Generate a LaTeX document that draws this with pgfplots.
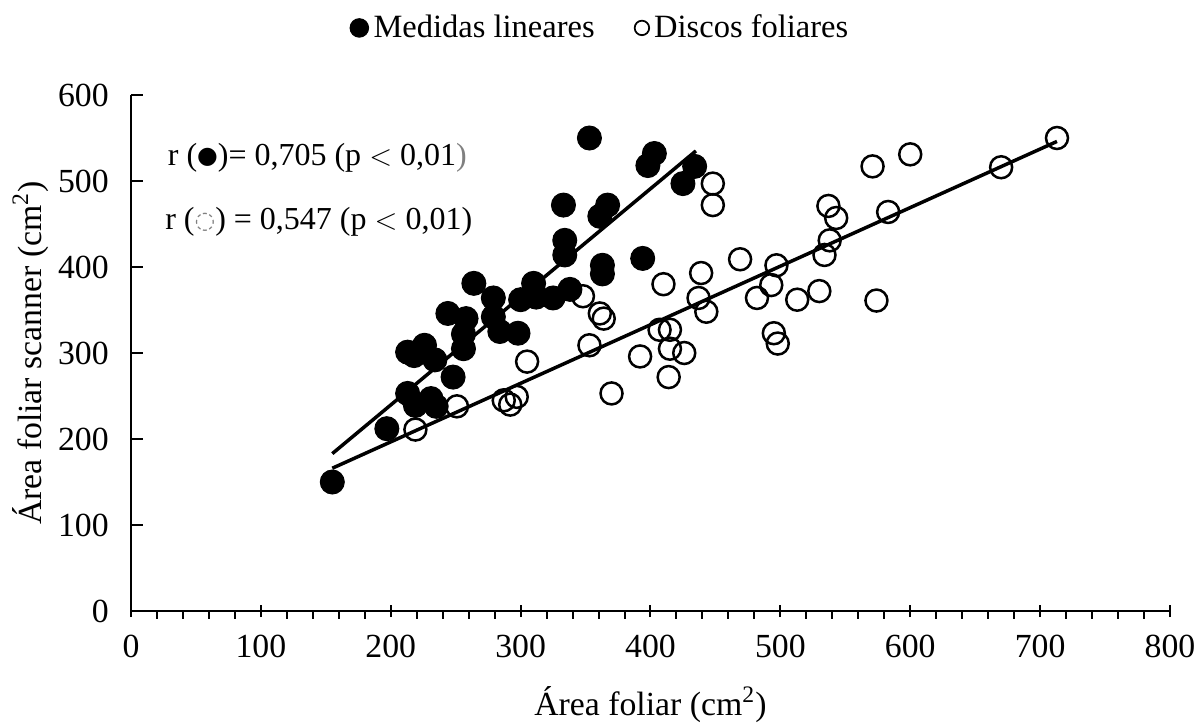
\documentclass[border=0pt]{standalone}
\usepackage{fontspec}
\setmainfont{Liberation Serif}
\newfontfamily\symfont{DejaVu Sans}
\usepackage{pgfplots}
\pgfplotsset{compat=1.18}

\newcommand{\fs}{\fontsize{13.5}{16}\selectfont}

\begin{document}
\begin{tikzpicture}
\useasboundingbox (-52.4pt,-45.2pt) rectangle (425.2pt,244.4pt);
\begin{axis}[
    at={(0,0)}, anchor=south west,
    scale only axis,
    width=415.6pt, height=206.4pt,
    xmin=0, xmax=800, ymin=0, ymax=600,
    axis lines*=left,
    axis line style={black, line width=0.8pt},
    xtick={0,100,...,800},
    ytick={0,100,...,600},
    minor x tick num=4,
    tick align=center,
    major tick length=4.8pt,
    minor tick length=3pt,
    tick style={black, line width=0.8pt},
    minor x tick style={yshift=-1.5pt},
    major y tick style={xshift=2.4pt},
    /pgf/number format/assume math mode=true,
    ticklabel style={font=\fs},
    xticklabel style={yshift=-3.5pt},
    yticklabel style={xshift=-3pt},
    xlabel={Área foliar (cm\textsuperscript{2})},
    ylabel={Área foliar scanner (cm\textsuperscript{2})},
    xlabel style={font=\fs, at={(axis description cs:0.5,-0.182)}, anchor=center},
    ylabel style={font=\fs, at={(axis description cs:-0.097,0.5)}, anchor=center},
    legend style={draw=none, fill=none, at={(0.453,1.13)}, anchor=center,
        font=\fontsize{13}{16}\selectfont, legend columns=2,
        /tikz/every even column/.append style={column sep=14pt}},
    legend cell align=left,
]

% Medidas lineares (filled)
\addplot[only marks, mark=*, mark size=4.8pt, black,
    legend image post style={mark size=3.7pt}] coordinates {
    (155,150) (197,212) (213,253) (219,239) (231,247) (235,238)
    (213,301) (218,297) (226,309) (234,292) (248,272) (244,346)
    (258,340) (256,322) (256,305) (264,381) (279,364) (279,342)
    (284,325) (298,323) (300,362) (310,381) (312,365) (325,364)
    (338,374) (334,414) (334,431) (333,472) (363,402) (363,392)
    (394,410) (361,459) (367,472) (353,550) (403,532) (398,518)
    (434,517) (425,497)
};
\addlegendentry{Medidas lineares}

% Discos foliares (open)
\addplot[only marks, mark=o, mark size=4.4pt, black, line width=1pt,
    legend image post style={mark size=2.9pt, line width=0.7pt}] coordinates {
    (219,211) (251,238) (287,245) (292,240) (297,249) (305,290)
    (348,366) (361,346) (364,340) (353,309) (370,253) (392,296)
    (407,327) (415,327) (415,305) (426,300) (414,272) (410,380)
    (439,393) (437,364) (443,348) (448,497) (448,472) (469,409)
    (482,364) (493,379) (497,402) (513,362) (495,323) (498,311)
    (530,372) (534,414) (538,431) (537,471) (543,457) (574,361)
    (571,517) (583,464) (600,531) (670,516) (713,550)
};
\addlegendentry{Discos foliares}

% regression lines
\addplot[black, line width=1.4pt, forget plot] coordinates {(155,183) (435,535)};
\addplot[black, line width=1.4pt, forget plot] coordinates {(155,166) (713,546)};

\node[anchor=west, font=\fontsize{12.8}{15}\selectfont, inner sep=0pt] at (axis cs:28,527)
    {r (\raisebox{0.6pt}{\symfont\fontsize{9.5}{10}\selectfont ●})= 0,705 (p $<$ 0,01{\color{gray})}};
\node[anchor=west, font=\fontsize{12.8}{15}\selectfont, inner sep=0pt] at (axis cs:26,452)
    {r (\raisebox{0.6pt}{\symfont\fontsize{9.5}{10}\selectfont\color{gray}◌}) = 0,547 (p $<$ 0,01)};

\end{axis}
\end{tikzpicture}
\end{document}
